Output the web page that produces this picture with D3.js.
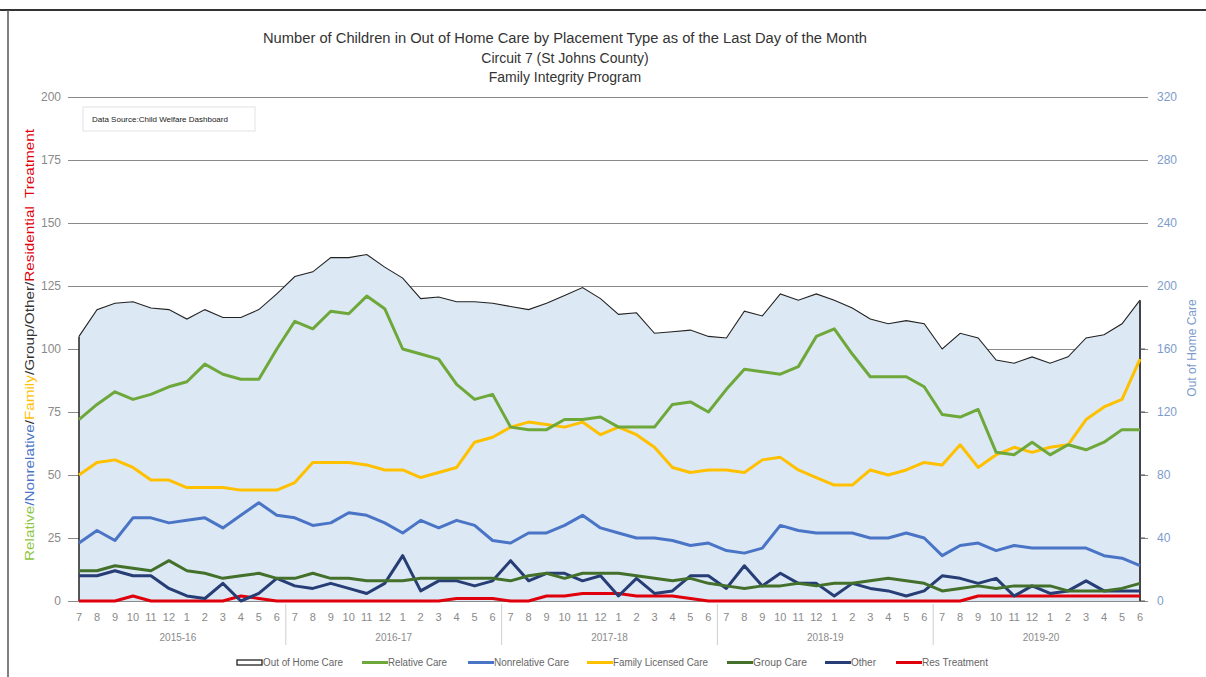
<!DOCTYPE html>
<html>
<head>
<meta charset="utf-8">
<script src="https://cdn.jsdelivr.net/npm/d3@7"></script>
<style>
  html, body { margin: 0; padding: 0; background: #fff; }
  svg { display: block; font-family: "Liberation Sans", Arial, sans-serif; }
</style>
</head>
<body>
<svg id="chart" width="1206" height="677"></svg>
<script>
// ---- Data (July 2015 .. June 2020, last day of month) ----
const monthLabels = ["7","8","9","10","11","12","1","2","3","4","5","6"];
const fiscalYears = ["2015-16","2016-17","2017-18","2018-19","2019-20"];
const leftTicks = [0,25,50,75,100,125,150,175,200];
const rightTicks = [0,40,80,120,160,200,240,280,320];

const outOfHomeCare = [168,185,189,190,186,185,179,185,180,180,185,195,
                       206,209,218,218,220,212,205,192,193,190,190,189,
                       187,185,189,194,199,192,182,183,170,171,172,168,
                       167,184,181,195,191,195,191,186,179,176,178,176,
                       160,170,167,153,151,155,151,155,167,169,176,191];
const relativeCare = [72,78,83,80,82,85,87,94,90,88,88,100,
                      111,108,115,114,121,116,100,98,96,86,80,82,
                      69,68,68,72,72,73,69,69,69,78,79,75,
                      84,92,91,90,93,105,108,98,89,89,89,85,
                      74,73,76,59,58,63,58,62,60,63,68,68];
const nonrelativeCare = [23,28,24,33,33,31,32,33,29,34,39,34,
                         33,30,31,35,34,31,27,32,29,32,30,24,
                         23,27,27,30,34,29,27,25,25,24,22,23,
                         20,19,21,30,28,27,27,27,25,25,27,25,
                         18,22,23,20,22,21,21,21,21,18,17,14];
const familyLicensedCare = [50,55,56,53,48,48,45,45,45,44,44,44,
                            47,55,55,55,54,52,52,49,51,53,63,65,
                            69,71,70,69,71,66,69,66,61,53,51,52,
                            52,51,56,57,52,49,46,46,52,50,52,55,
                            54,62,53,58,61,59,61,62,72,77,80,96];
const groupCare = [12,12,14,13,12,16,12,11,9,10,11,9,
                   9,11,9,9,8,8,8,9,9,9,9,9,
                   8,10,11,9,11,11,11,10,9,8,9,7,
                   6,5,6,6,7,6,7,7,8,9,8,7,
                   4,5,6,5,6,6,6,4,4,4,5,7];
const other = [10,10,12,10,10,5,2,1,7,0,3,9,
               6,5,7,5,3,7,18,4,8,8,6,8,
               16,8,11,11,8,10,2,9,3,4,10,10,
               5,14,6,11,7,7,2,7,5,4,2,4,
               10,9,7,9,2,6,3,4,8,4,4,4];
const resTreatment = [0,0,0,2,0,0,0,0,0,2,1,0,
                      0,0,0,0,0,0,0,0,0,1,1,1,
                      0,0,2,2,3,3,3,2,2,2,1,0,
                      0,0,0,0,0,0,0,0,0,0,0,0,
                      0,0,2,2,2,2,2,2,2,2,2,2];

const seriesNames = ["Relative Care","Nonrelative Care","Family Licensed Care","Group Care","Other","Res Treatment"];
const seriesValues = [relativeCare, nonrelativeCare, familyLicensedCare, groupCare, other, resTreatment];
const seriesColors = ["#6ea83b","#4a74c6","#ffc000","#43702a","#263d75","#e0000b"];

// ---- Layout ----
const svg = d3.select("#chart");
const n = outOfHomeCare.length;
const x = d3.scaleLinear().domain([0, n - 1]).range([79, 1140]);
const yL = d3.scaleLinear().domain([0, 200]).range([601, 97]);
const yR = d3.scaleLinear().domain([0, 320]).range([601, 97]);

// frame
svg.append("line").attr("x1",0).attr("x2",1206).attr("y1",10).attr("y2",10)
  .attr("stroke","#333").attr("stroke-width",2);
svg.append("line").attr("x1",8).attr("x2",8).attr("y1",10).attr("y2",677)
  .attr("stroke","#555").attr("stroke-width",1.5);

// titles
const titles = ["Number of Children in Out of Home Care by Placement Type as of the Last Day of the Month",
                "Circuit 7 (St Johns County)", "Family Integrity Program"];
svg.selectAll("text.title").data(titles).join("text")
  .attr("class","title")
  .attr("x",565).attr("y",(d,i)=>43 + i*19.5)
  .attr("text-anchor","middle")
  .attr("font-size",14).attr("fill","#333")
  .attr("textLength",(d,i)=> i===0 ? 604 : null)
  .attr("lengthAdjust","spacingAndGlyphs")
  .text(d=>d);

// gridlines
const grid = svg.append("g");
grid.selectAll("line").data(leftTicks).join("line")
  .attr("x1",68).attr("x2",1148)
  .attr("y1",d=>yL(d)+0.5).attr("y2",d=>yL(d)+0.5)
  .attr("stroke","#8a8a8a").attr("stroke-width",1);

// left axis
const leftAxis = d3.axisLeft(yL).tickValues(leftTicks).tickSize(0).tickPadding(0);
const gL = svg.append("g").attr("transform","translate(61,0)").call(leftAxis);
gL.select(".domain").remove();
gL.selectAll("text").attr("font-size",12).attr("fill","#8a8a8a")
  .attr("font-family","Liberation Sans, sans-serif");

// right axis
const rightAxis = d3.axisRight(yR).tickValues(rightTicks).tickSize(0).tickPadding(0);
const gR = svg.append("g").attr("transform","translate(1157,0)").call(rightAxis);
gR.select(".domain").remove();
gR.selectAll("text").attr("font-size",12).attr("fill","#7d9ccb")
  .attr("font-family","Liberation Sans, sans-serif");

// area: Out of Home Care
const area = d3.area().x((d,i)=>x(i)).y0(yR(0)).y1(d=>yR(d)).curve(d3.curveLinear);
svg.append("path").datum(outOfHomeCare)
  .attr("d",area).attr("fill","#dce8f4").attr("stroke","none");
const outline = d3.line().x((d,i)=>x(i)).y(d=>yR(d));
svg.append("path").datum(outOfHomeCare).attr("d",outline)
  .attr("fill","none").attr("stroke","#222").attr("stroke-width",1.1);
svg.append("line").attr("x1",x(0)).attr("x2",x(0)).attr("y1",yR(0)).attr("y2",yR(outOfHomeCare[0]))
  .attr("stroke","#222").attr("stroke-width",1.5);
svg.append("line").attr("x1",x(n-1)).attr("x2",x(n-1)).attr("y1",yR(0)).attr("y2",yR(outOfHomeCare[n-1]))
  .attr("stroke","#444").attr("stroke-width",2);
// right axis small ticks
svg.append("g").selectAll("line").data(rightTicks.filter(d=>d<=outOfHomeCare[n-1])).join("line")
  .attr("x1",x(n-1)).attr("x2",x(n-1)+5)
  .attr("y1",d=>yR(d)).attr("y2",d=>yR(d))
  .attr("stroke","#555").attr("stroke-width",1);

// series lines
const line = d3.line().x((d,i)=>x(i)).y(d=>yL(d));
const drawOrder = [5,4,3,1,2,0];
drawOrder.forEach(k=>{
  svg.append("path").datum(seriesValues[k]).attr("d",line)
    .attr("fill","none").attr("stroke",seriesColors[k])
    .attr("stroke-width",3).attr("stroke-linejoin","round");
});

// x axis month labels
const monthIdx = d3.range(n);
svg.append("g").selectAll("text").data(monthIdx).join("text")
  .attr("x",i=>x(i)).attr("y",621)
  .attr("text-anchor","middle").attr("font-size",11).attr("fill","#8a8a8a")
  .text(i=>monthLabels[i % 12]);
svg.append("g").selectAll("text").data(fiscalYears).join("text")
  .attr("x",(d,j)=>(x(j*12)+x(j*12+11))/2).attr("y",641)
  .attr("text-anchor","middle").attr("font-size",10).attr("fill","#8a8a8a")
  .text(d=>d);
svg.append("g").selectAll("line").data(d3.range(1,fiscalYears.length)).join("line")
  .attr("x1",j=>(x(j*12-1)+x(j*12))/2).attr("x2",j=>(x(j*12-1)+x(j*12))/2)
  .attr("y1",604).attr("y2",645).attr("stroke","#cfcfcf").attr("stroke-width",1);

// data source box
svg.append("rect").attr("x",83).attr("y",107).attr("width",172).attr("height",24)
  .attr("fill","#fff").attr("stroke","#e2e2e2");
svg.append("text").attr("x",92).attr("y",122).attr("font-size",8).attr("fill","#222")
  .text("Data Source:Child Welfare Dashboard");

// left axis title (multi-coloured)
const lt = svg.append("text").attr("transform","translate(34,345) rotate(-90)")
  .attr("text-anchor","middle").attr("font-size",12)
  .attr("textLength",432).attr("lengthAdjust","spacingAndGlyphs");
[["Relative","#8dc63f"],["/","#4a74c6"],["Nonrelative","#4a74c6"],["/","#333"],
 ["Family","#ffc000"],["/Group/Other/","#333"],["Residential  Treatment","#e0000b"]]
 .forEach(([t,c])=>lt.append("tspan").attr("fill",c).attr("xml:space","preserve").text(t));

// right axis title
svg.append("text").attr("transform","translate(1196,348) rotate(-90)")
  .attr("text-anchor","middle").attr("font-size",12).attr("fill","#7d9ccb")
  .text("Out of Home Care");

// legend
const legendItems = [
  {name:"Out of Home Care", x:237, w:80, type:"box", color:"#222"},
  {name:"Relative Care", x:362, w:59, type:"line", color:seriesColors[0]},
  {name:"Nonrelative Care", x:468, w:75, type:"line", color:seriesColors[1]},
  {name:"Family Licensed Care", x:587, w:95, type:"line", color:seriesColors[2]},
  {name:"Group Care", x:727, w:54, type:"line", color:seriesColors[3]},
  {name:"Other", x:825, w:25, type:"line", color:seriesColors[4]},
  {name:"Res Treatment", x:896, w:66, type:"line", color:seriesColors[5]}
];
const lg = svg.append("g");
legendItems.forEach(it=>{
  if (it.type==="box") {
    lg.append("rect").attr("x",it.x).attr("y",660).attr("width",25).attr("height",5)
      .attr("fill","#fff").attr("stroke",it.color).attr("stroke-width",1.3);
  } else {
    lg.append("line").attr("x1",it.x).attr("x2",it.x+26).attr("y1",662.5).attr("y2",662.5)
      .attr("stroke",it.color).attr("stroke-width",3);
  }
  lg.append("text").attr("x",it.x+26).attr("y",666).attr("font-size",10).attr("fill","#666")
    .attr("textLength",it.w).attr("lengthAdjust","spacingAndGlyphs")
    .text(it.name);
});
</script>
</body>
</html>
